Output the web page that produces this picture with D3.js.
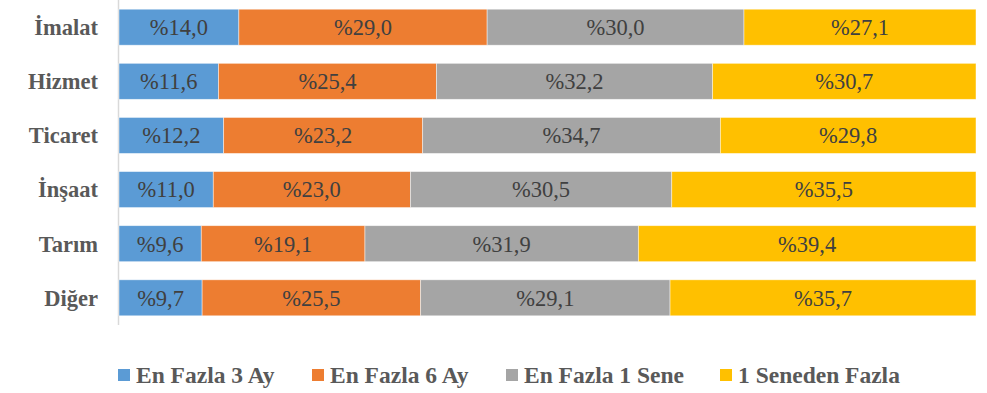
<!DOCTYPE html>
<html>
<head>
<meta charset="utf-8">
<script src="https://cdn.jsdelivr.net/npm/d3@7"></script>
<style>
  html, body { margin: 0; padding: 0; background: #fff; }
  svg { display: block; }
</style>
</head>
<body>
<svg id="chart" width="987" height="393"></svg>
<script>
// Sectors (top to bottom)
const categories = ["İmalat", "Hizmet", "Ticaret", "İnşaat", "Tarım", "Diğer"];

// Duration groups
const seriesNames = ["En Fazla 3 Ay", "En Fazla 6 Ay", "En Fazla 1 Sene", "1 Seneden Fazla"];
const seriesColors = ["#5b9bd5", "#ed7d31", "#a5a5a5", "#ffc000"];

// Shares (%) per sector, one array per duration group
const upTo3Months  = [14.0, 11.6, 12.2, 11.0, 9.6, 9.7];
const upTo6Months  = [29.0, 25.4, 23.2, 23.0, 19.1, 25.5];
const upTo1Year    = [30.0, 32.2, 34.7, 30.5, 31.9, 29.1];
const over1Year    = [27.1, 30.7, 29.8, 35.5, 39.4, 35.7];

const seriesValues = [upTo3Months, upTo6Months, upTo1Year, over1Year];

const fontFamily = "'Liberation Serif', 'Times New Roman', serif";

const svg = d3.select("#chart");
const margin = { left: 119, right: 11, top: 0 };
const plotW = 987 - margin.left - margin.right;
const plotH = 325;

// Normalised (100%) stacking
const rows = categories.map((c, i) => {
  const vals = seriesValues.map(s => s[i]);
  const total = d3.sum(vals);
  let acc = 0;
  return vals.map((v, k) => {
    const seg = { cat: c, k, value: v, x0: acc / total, x1: (acc + v) / total };
    acc += v;
    return seg;
  });
});

const x = d3.scaleLinear().domain([0, 1]).range([margin.left, margin.left + plotW]);
const y = d3.scaleBand().domain(categories).range([margin.top, margin.top + plotH]).paddingInner(0.335).paddingOuter(0.17);

// Category axis line
svg.append("line")
  .attr("x1", margin.left - 0.5).attr("x2", margin.left - 0.5)
  .attr("y1", margin.top).attr("y2", margin.top + plotH)
  .attr("stroke", "#d9d9d9").attr("stroke-width", 1.5);

const g = svg.append("g");
rows.forEach(row => {
  row.forEach(seg => {
    g.append("rect")
      .attr("x", x(seg.x0))
      .attr("y", y(seg.cat))
      .attr("width", x(seg.x1) - x(seg.x0))
      .attr("height", y.bandwidth())
      .attr("fill", seriesColors[seg.k])
      .attr("stroke", "#fff").attr("stroke-opacity", 0.6).attr("stroke-width", 0.75);
    g.append("text")
      .attr("x", (x(seg.x0) + x(seg.x1)) / 2)
      .attr("y", y(seg.cat) + y.bandwidth() / 2)
      .attr("dy", "0.35em")
      .attr("text-anchor", "middle")
      .attr("font-family", fontFamily)
      .attr("font-size", 22.5)
      .attr("fill", "#404040")
      .text("%" + d3.format(".1f")(seg.value).replace(".", ","));
  });
});

// Category labels
svg.append("g").selectAll("text").data(categories).join("text")
  .attr("x", 98)
  .attr("y", d => y(d) + y.bandwidth() / 2)
  .attr("dy", "0.35em")
  .attr("text-anchor", "end")
  .attr("font-family", fontFamily)
  .attr("font-weight", "bold")
  .attr("font-size", 22.5)
  .attr("fill", "#595959")
  .text(d => d);

// Legend
const legendX = [118, 312, 506, 720];
const legend = svg.append("g");
seriesNames.forEach((name, i) => {
  legend.append("rect")
    .attr("x", legendX[i]).attr("y", 369)
    .attr("width", 12).attr("height", 12)
    .attr("fill", seriesColors[i]);
  legend.append("text")
    .attr("x", legendX[i] + 18).attr("y", 375)
    .attr("dy", "0.35em")
    .attr("font-family", fontFamily)
    .attr("font-weight", "bold")
    .attr("font-size", 23.5)
    .attr("fill", "#595959")
    .text(name);
});
</script>
</body>
</html>
